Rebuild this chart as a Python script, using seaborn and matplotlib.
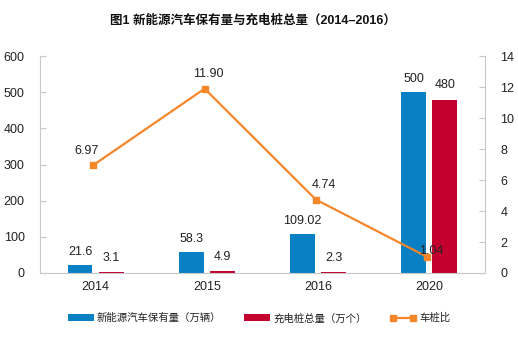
import numpy as np
import pandas as pd
import matplotlib
matplotlib.use("Agg")
import matplotlib.pyplot as plt
import seaborn as sns
from matplotlib.lines import Line2D
from matplotlib.patches import Patch

years = ["2014", "2015", "2016", "2020"]
ev_stock = [21.6, 58.3, 109.02, 500]
chargers = [3.1, 4.9, 2.3, 480]
ratio = [6.97, 11.90, 4.74, 1.04]
ev_labels = ["21.6", "58.3", "109.02", "500"]
ch_labels = ["3.1", "4.9", "2.3", "480"]
ratio_labels = ["6.97", "11.90", "4.74", "1.04"]
series_names = ["新能源汽车保有量（万辆）", "充电桩总量（万个）", "车桩比"]
title = "图1 新能源汽车保有量与充电桩总量（2014–2016）"

sns.set_theme(style="white")
plt.rcParams["font.family"] = ["Liberation Sans", "Noto Sans CJK SC", "DejaVu Sans"]

BLUE = "#0A80C4"
RED = "#C4002F"
ORANGE = "#F5862A"
TXT = "#222222"

df = pd.DataFrame({
    "year": years * 2,
    "value": ev_stock + chargers,
    "series": [series_names[0]] * 4 + [series_names[1]] * 4,
})

fig = plt.figure(figsize=(5.18, 3.42), dpi=100)
ax = fig.add_axes([0.0772, 0.2018, 0.859, 0.634])
sns.barplot(data=df, x="year", y="value", hue="series", ax=ax,
            palette=[BLUE, RED], saturation=1, width=0.56, gap=0.2, legend=False,
            edgecolor="none", linewidth=0)
ax.set_xlim(-0.5, 3.5)
ax.set_ylim(0, 600)
ax.set_yticks(range(0, 601, 100))
ax.set_xlabel("")
ax.set_ylabel("")

ax2 = ax.twinx()
ax2.set_ylim(0, 14)
ax2.set_yticks(range(0, 15, 2))
xline = np.arange(len(years)) - 0.02
ax2.plot(xline, ratio, color=ORANGE, lw=1.6, marker="s", ms=5, mec=ORANGE, mfc=ORANGE)

for a in (ax, ax2):
    a.spines["top"].set_visible(False)
    for s in ("left", "right", "bottom"):
        a.spines[s].set_color("#c8c8c8")
        a.spines[s].set_linewidth(0.8)
ax.spines["right"].set_visible(False)
ax2.spines["left"].set_visible(False)
ax2.spines["bottom"].set_visible(False)

ax.tick_params(axis="y", direction="in", length=4, color="#c8c8c8", width=0.8,
               labelsize=9, labelcolor=TXT, pad=11)
ax.tick_params(axis="x", length=0, labelsize=9, labelcolor=TXT, pad=6)
ax2.tick_params(axis="y", direction="in", length=4, color="#c8c8c8", width=0.8,
                labelsize=9, labelcolor=TXT, pad=11)

cont_ev, cont_ch = ax.containers[0], ax.containers[1]
for bar, lab in zip(cont_ev, ev_labels):
    ax.annotate(lab, (bar.get_x() + bar.get_width() / 2, bar.get_height()),
                xytext=(0, 5), textcoords="offset points", ha="center", va="bottom",
                fontsize=9, color=TXT)
for bar, lab in zip(cont_ch, ch_labels):
    ax.annotate(lab, (bar.get_x() + bar.get_width() / 2, bar.get_height()),
                xytext=(0, 6), textcoords="offset points", ha="center", va="bottom",
                fontsize=9, color=TXT)

offsets = [(-5, 6), (3, 6), (6, 6), (3, 0)]
for x, y, lab, off in zip(xline, ratio, ratio_labels, offsets):
    ax2.annotate(lab, (x, y), xytext=off, textcoords="offset points",
                 ha="center", va="bottom", fontsize=9, color=TXT)

fig.text(0.489, 0.94, title, ha="center", va="center", fontsize=9,
         fontweight="bold", color="#111111")

handles = [Patch(facecolor=BLUE, edgecolor="none"),
           Patch(facecolor=RED, edgecolor="none"),
           Line2D([0], [0], color=ORANGE, lw=1.6, marker="s", ms=5)]
fig.legend(handles, series_names, loc="center", bbox_to_anchor=(0.5, 0.07),
           ncol=3, frameon=False, fontsize=7.5, handlelength=2.5, handleheight=0.6,
           handletextpad=0.3, columnspacing=2.2, numpoints=2, labelcolor=TXT)

fig.savefig("out.png", dpi=100)
